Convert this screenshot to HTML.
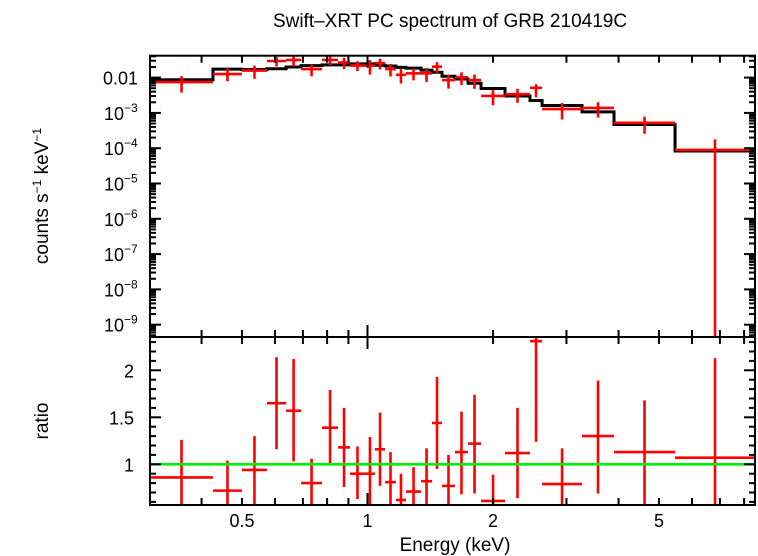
<!DOCTYPE html>
<html><head><meta charset="utf-8"><style>
html,body{margin:0;padding:0;background:#fff;}
svg{display:block;font-family:"Liberation Sans",sans-serif;}
</style></head><body>
<svg id="c" width="758" height="556" viewBox="0 0 758 556" xmlns="http://www.w3.org/2000/svg">
<text x="450" y="27" font-size="19" text-anchor="middle">Swift–XRT PC spectrum of GRB 210419C</text>
<text transform="translate(48,196) rotate(-90)" font-size="19" text-anchor="middle">counts s<tspan baseline-shift="super" font-size="12">−1</tspan> keV<tspan baseline-shift="super" font-size="12">−1</tspan></text>
<text transform="translate(48,421) rotate(-90)" font-size="19" text-anchor="middle">ratio</text>
<text x="455" y="551" font-size="19" text-anchor="middle">Energy (keV)</text>
<g id="gTop"></g>
<g id="gBot"></g>
<g id="gAx"></g>
</svg>
<script>
const binEdges=[0.301,0.426,0.500,0.574,0.638,0.693,0.778,0.850,0.908,0.986,1.042,1.102,1.170,1.237,1.344,1.428,1.509,1.621,1.742,1.872,2.137,2.453,2.622,3.269,3.901,5.464,8.50];
const countsLog=[-2.125,-1.90,-1.80,-1.53,-1.50,-1.76,-1.50,-1.57,-1.66,-1.66,-1.59,-1.76,-1.92,-1.88,-1.88,-1.69,-2.07,-1.99,-2.07,-2.52,-2.47,-2.29,-2.89,-2.86,-3.28,-4.05];
const modelLog=[-2.06,-1.76,-1.77,-1.75,-1.70,-1.66,-1.64,-1.64,-1.61,-1.61,-1.65,-1.67,-1.71,-1.73,-1.79,-1.85,-1.96,-2.04,-2.16,-2.31,-2.52,-2.65,-2.79,-2.97,-3.33,-4.08];
const ratio=[0.86,0.72,0.94,1.65,1.57,0.80,1.39,1.18,0.90,0.90,1.16,0.81,0.62,0.71,0.82,1.44,0.77,1.13,1.22,0.61,1.12,2.31,0.79,1.30,1.13,1.07];
const ratioHi=[1.26,1.04,1.30,2.14,2.12,1.06,1.79,1.60,1.19,1.29,1.55,1.13,0.90,0.97,1.17,1.93,1.10,1.56,1.74,0.89,1.60,2.9,1.17,1.89,1.68,2.13];
const ratioLo=[0.43,0.45,0.55,1.16,1.03,0.50,1.00,0.76,0.63,0.50,0.77,0.50,0.35,0.45,0.47,0.95,0.44,0.68,0.69,0.33,0.64,1.24,0.40,0.69,0.55,0];
const xTickLabels=["0.5","1","2","5"];
const xTickVals=[0.5,1,2,5];
const yTopLabels=["0.01","10","10","10","10","10","10","10"];
const yTopExp=[null,"−3","−4","−5","−6","−7","−8","−9"];
const yTopVals=[-2,-3,-4,-5,-6,-7,-8,-9];
const yBotLabels=["1","1.5","2"];
const yBotVals=[1,1.5,2];

const L=150,R=755,T1=55.7,B1=337,B2=505;
const NS="http://www.w3.org/2000/svg";
const X=e=>367.5+417*Math.log10(e);
const Y1=lg=>77.6-35.3*(lg+2);
const Y2=r=>464.3-94*(r-1);
function mk(p,tag,at){const el=document.createElementNS(NS,tag);for(const k in at)el.setAttribute(k,at[k]);p.appendChild(el);return el;}
const gT=document.getElementById('gTop'),gB=document.getElementById('gBot'),gA=document.getElementById('gAx');
const clipT=(y)=>Math.max(T1,Math.min(B1,y)), clipB=(y)=>Math.max(B1,Math.min(B2,y));
let d="";
for(let i=0;i<modelLog.length;i++){const y=Y1(modelLog[i]);d+=(i?"L":"M")+X(binEdges[i])+","+y+"L"+Math.min(R,X(binEdges[i+1]))+","+y;}
const m=mk(gT,'path',{d:d,fill:'none',stroke:'#000','stroke-width':3});


for(let i=0;i<countsLog.length;i++){
  const x0=X(binEdges[i]),x1=Math.min(R,X(binEdges[i+1])),xc=(x0+x1)/2;
  const y=Y1(countsLog[i]);
  const yh=clipT(Y1(countsLog[i]+Math.log10(ratioHi[i]/ratio[i])));
  const yl=ratioLo[i]>0?clipT(Y1(countsLog[i]+Math.log10(ratioLo[i]/ratio[i]))):B1;
  const g=mk(gT,'g',{stroke:'#f00','stroke-width':2.6});
  
  
  mk(g,'line',{x1:x0,x2:x1,y1:y,y2:y});mk(g,'line',{x1:xc,x2:xc,y1:yh,y2:yl});
  const r=Y2(ratio[i]);
  const g2=mk(gB,'g',{stroke:'#f00','stroke-width':2.6});
  
  
  if(r>=B1&&r<=B2)mk(g2,'line',{x1:x0,x2:x1,y1:r,y2:r});
  mk(g2,'line',{x1:xc,x2:xc,y1:clipB(Y2(ratioHi[i])),y2:clipB(Y2(ratioLo[i]))});
}
const gl=mk(gB,'line',{x1:L,x2:R,y1:Y2(1),y2:Y2(1),stroke:'#0e0','stroke-width':2.6});


for(const [t,b] of [[T1,B1],[B1,B2]]){const f=mk(gA,'rect',{x:L,y:t,width:R-L,height:b-t,fill:'none',stroke:'#000','stroke-width':2});

}
function tk(x1,y1,x2,y2){mk(gA,'line',{x1,y1,x2,y2,stroke:'#000','stroke-width':2});}
const xt=[0.4,0.5,0.6,0.7,0.8,0.9,1,2,3,4,5,6,7,8];
for(const e of xt){const x=X(e),len=e===1?12:7;
  for(const [yy,s] of [[T1,1],[B1,1],[B1,-1],[B2,-1]])tk(x,yy,x,yy+s*len);}
xTickVals.forEach((v,i)=>{const t=mk(gA,'text',{x:X(v),y:527,'font-size':18,'text-anchor':'middle'});t.textContent=xTickLabels[i];

});
for(let dec=-10;dec<=-2;dec++)for(let k=1;k<10;k++){const y=Y1(dec+Math.log10(k));if(y<T1||y>B1)continue;const len=k===1?11:6;tk(L,y,L+len,y);tk(R,y,R-len,y);}
yTopVals.forEach((v,i)=>{const t=mk(gA,'text',{x:yTopExp[i]?124:138,y:Y1(v)+7,'font-size':18,'text-anchor':'end'});t.textContent=yTopLabels[i];


if(yTopExp[i]){const s=mk(gA,'text',{x:124,y:Y1(v)-1,'font-size':12,'text-anchor':'start'});s.textContent=yTopExp[i];

}});
for(let r=0.6;r<2.36;r+=0.1){const y=Y2(r);const maj=Math.abs(r*2-Math.round(r*2))<1e-6;const len=maj?11:6;tk(L,y,L+len,y);tk(R,y,R-len,y);}
yBotVals.forEach((v,i)=>{const t=mk(gA,'text',{x:134,y:Y2(v)+7,'font-size':18,'text-anchor':'end'});t.textContent=yBotLabels[i];

});
</script>
</body></html>
